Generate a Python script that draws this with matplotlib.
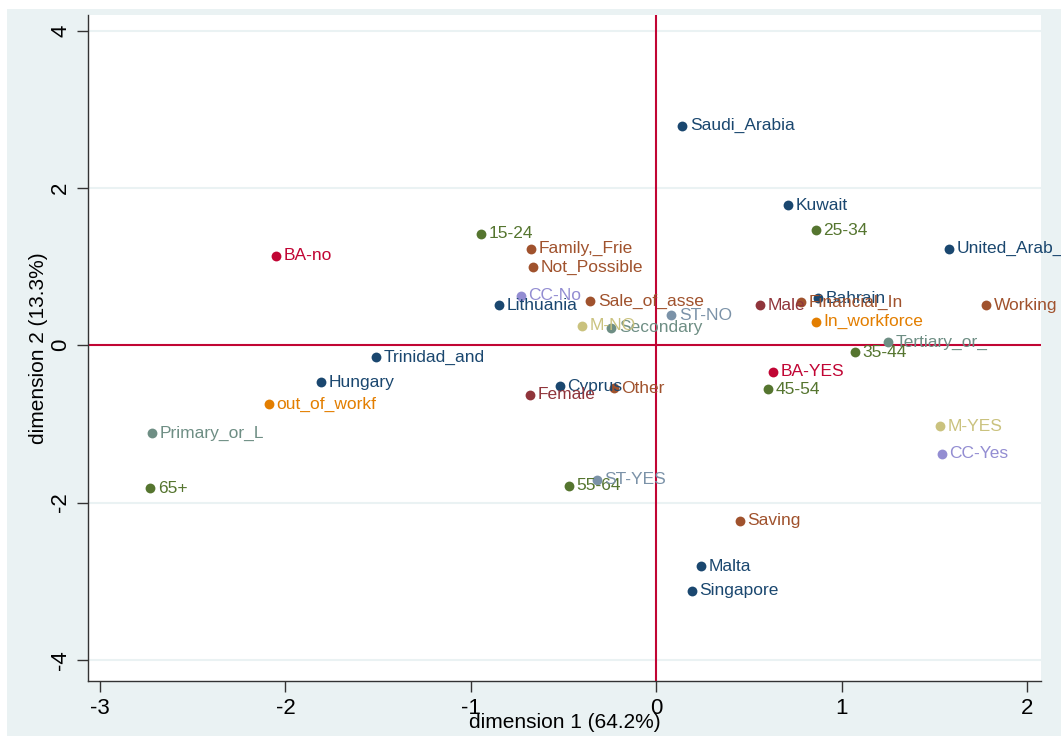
import matplotlib
matplotlib.use("Agg")
import matplotlib.pyplot as plt
from matplotlib.patches import Rectangle

# row / column coordinates, one small list per variable
country = ["Saudi_Arabia", "Kuwait", "United_Arab_", "Lithuania", "Bahrain",
           "Trinidad_and", "Hungary", "Cyprus", "Malta", "Singapore"]
country_x = [0.14, 0.71, 1.58, -0.85, 0.87, -1.51, -1.81, -0.52, 0.24, 0.19]
country_y = [2.79, 1.78, 1.23, 0.51, 0.60, -0.15, -0.47, -0.52, -2.81, -3.12]

gender = ["Male", "Female"]
gender_x = [0.56, -0.68]
gender_y = [0.51, -0.63]

age = ["15-24", "25-34", "35-44", "45-54", "55-64", "65+"]
age_x = [-0.945, 0.86, 1.07, 0.60, -0.47, -2.73]
age_y = [1.42, 1.46, -0.09, -0.56, -1.79, -1.82]

work = ["In_workforce", "out_of_workf"]
work_x = [0.86, -2.09]
work_y = [0.30, -0.75]

educ = ["Primary_or_L", "Secondary", "Tertiary_or_"]
educ_x = [-2.72, -0.243, 1.25]
educ_y = [-1.12, 0.22, 0.04]

ba = ["BA-no", "BA-YES"]
ba_x = [-2.05, 0.63]
ba_y = [1.14, -0.34]

cc = ["CC-No", "CC-Yes"]
cc_x = [-0.73, 1.54]
cc_y = [0.63, -1.38]

m = ["M-NO", "M-YES"]
m_x = [-0.40, 1.53]
m_y = [0.25, -1.03]

st = ["ST-NO", "ST-YES"]
st_x = [0.08, -0.32]
st_y = [0.38, -1.71]

funds = ["Family,_Frie", "Not_Possible", "Sale_of_asse", "Financial_In",
         "Working", "Other", "Saving"]
funds_x = [-0.675, -0.664, -0.356, 0.78, 1.78, -0.23, 0.45]
funds_y = [1.23, 0.99, 0.56, 0.55, 0.51, -0.55, -2.23]

groups = [
    (country, country_x, country_y, "#1a476f"),
    (gender, gender_x, gender_y, "#90353b"),
    (age, age_x, age_y, "#55752f"),
    (work, work_x, work_y, "#e37e00"),
    (educ, educ_x, educ_y, "#6e8e84"),
    (ba, ba_x, ba_y, "#c10534"),
    (cc, cc_x, cc_y, "#938dd2"),
    (m, m_x, m_y, "#cac27e"),
    (st, st_x, st_y, "#7b92a8"),
    (funds, funds_x, funds_y, "#a0522d"),
]

bg = "#eaf2f3"
plt.rcParams["font.family"] = ["Liberation Sans", "DejaVu Sans"]
plt.rcParams["axes.unicode_minus"] = False

fig = plt.figure(figsize=(10.61, 7.36), dpi=100, facecolor="white")
fig.patches.append(Rectangle((7 / 1061, 0), 1, 1 - 9 / 736, transform=fig.transFigure,
                             facecolor=bg, edgecolor="none", zorder=-10))
ax = fig.add_axes([88 / 1061, 1 - 681 / 736, (1041 - 88) / 1061, (681 - 15) / 736])
ax.set_facecolor("white")

ax.set_xlim(-3.065, 2.075)
ax.set_ylim(-4.27, 4.2)

for yv in [-4, -2, 2, 4]:
    ax.axhline(yv, color=bg, lw=1.5, zorder=0)
ax.axhline(0, color="#c10534", lw=1.5, zorder=1)
ax.axvline(0, color="#c10534", lw=1.5, zorder=1)

for names, xs, ys, col in groups:
    ax.scatter(xs, ys, s=50, color=col, zorder=3, linewidths=0)
    for name, xv, yv in zip(names, xs, ys):
        ax.annotate(name, (xv, yv), xytext=(5.5, 0), textcoords="offset points",
                    va="center", ha="left", color=col, fontsize=12.5,
                    annotation_clip=False, zorder=4)

for side in ["top", "right"]:
    ax.spines[side].set_visible(False)
for side in ["left", "bottom"]:
    ax.spines[side].set_color("#333333")
    ax.spines[side].set_linewidth(1.0)

ax.set_xticks([-3, -2, -1, 0, 1, 2])
ax.set_yticks([-4, -2, 0, 2, 4])
ax.tick_params(axis="both", direction="out", length=8, width=1, color="#333333", pad=4)
ax.set_xticklabels(["-3", "-2", "-1", "0", "1", "2"], fontsize=16)
ax.set_yticklabels(["-4", "-2", "0", "2", "4"], rotation=90, va="center", fontsize=16)

ax.set_xlabel("dimension 1 (64.2%)", fontsize=15, labelpad=-4)
ax.set_ylabel("dimension 2 (13.3%)", fontsize=15, labelpad=2)

fig.savefig("out.png", dpi=100, facecolor=fig.get_facecolor())
